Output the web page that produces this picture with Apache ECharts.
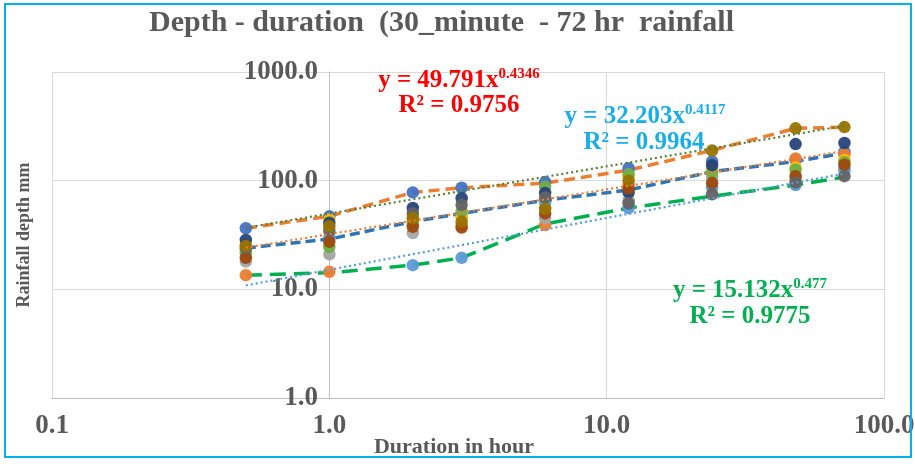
<!DOCTYPE html>
<html>
<head>
<meta charset="utf-8">
<script src="https://cdn.jsdelivr.net/npm/echarts@6.0.0/dist/echarts.min.js"></script>
<style>html,body{margin:0;padding:0;background:#fff}#c{width:915px;height:464px}</style>
</head>
<body>
<div id="c"></div>
<script>
// ---------- data ----------
const durations = [0.5, 1, 2, 3, 6, 12, 24, 48, 72];
const xTicks = [0.1, 1, 10, 100];
const yTicks = [1, 10, 100, 1000];

const station1 = [36.5, 47, 78, 86, 97, 130, 150, 155, 184];
const station2 = [13.5, 14.5, 40, 39, 39, 92, 125, 160, 175];
const station3 = [18, 21, 33, 47, 45, 66, 106, 101, 123];
const station4 = [26, 44, 47, 46, 56, 108, 122, 132, 155];
const station5 = [23, 30, 16.7, 19.5, 63, 56, 87, 91, 128];
const station6 = [21.5, 24.5, 42, 52, 88, 115, 118, 126, 148];
const station7 = [28.5, 41, 56, 69, 77, 78, 139, 217, 222];
const station8 = [19.5, 27.4, 37.6, 37, 50, 85, 95, 110, 140];
const station9 = [24, 34.5, 50, 60, 70, 62, 75, 96, 110];
const station10 = [25, 38, 45, 42, 55, 100, 189, 303, 311];

const maxDepth = [36.5, 47, 78, 86, 95, 125, 190, 303, 311];
const meanDepth = [24, 29, 42, 50, 66, 82, 121, 150, 180];
const minDepth = [13.5, 14.2, 16.7, 19.5, 40, 56, 72, 91, 108];

// trendline end points (power fits shown on chart)
const trendX = [0.5, 72];
const trendMax = [36.85, 319.4];   // y = 49.791x^0.4346
const trendMean = [24.21, 187.3];  // y = 32.203x^0.4117
const trendMin = [10.87, 116.4];   // y = 15.132x^0.477

const stations = [station1, station2, station3, station4, station5, station6, station7, station8, station9, station10];
const stationNames = ['Series1','Series2','Series3','Series4','Series5','Series6','Series7','Series8','Series9','Series10'];

// ---------- styles ----------
const stationColors = ['#4472C4','#ED7D31','#A5A5A5','#FFC000','#5B9BD5','#70AD47','#264478','#9E480E','#636363','#997300'];
const FONT = "'Liberation Serif', 'Times New Roman', serif";
const TXT = '#595959';

const pairs = (xs, ys) => xs.map((x, i) => [x, ys[i]]);

const series = [];
series.push({ name: 'Max', type: 'line', data: pairs(durations, maxDepth), showSymbol: false, symbol: 'none',
  lineStyle: { color: '#ED7D31', width: 3.5, type: [11, 6] }, z: 2 });
series.push({ name: 'Mean', type: 'line', data: pairs(durations, meanDepth), showSymbol: false, symbol: 'none',
  lineStyle: { color: '#2E75B6', width: 3.5, type: [10, 5] }, z: 2 });
series.push({ name: 'Min', type: 'line', data: pairs(durations, minDepth), showSymbol: false, symbol: 'none',
  lineStyle: { color: '#00B050', width: 3.5, type: [16, 8] }, z: 2 });
stations.forEach((s, i) => {
  series.push({ name: stationNames[i], type: 'scatter', data: pairs(durations, s), symbol: 'circle', symbolSize: 12.5,
    itemStyle: { color: stationColors[i], opacity: 0.95 }, z: 3 });
});
series.push({ name: 'Trend max', type: 'line', data: pairs(trendX, trendMax), showSymbol: false, symbol: 'none',
  lineStyle: { color: '#548235', width: 2.2, type: [2, 3] }, z: 4 });
series.push({ name: 'Trend mean', type: 'line', data: pairs(trendX, trendMean), showSymbol: false, symbol: 'none',
  lineStyle: { color: '#ED7D31', width: 2.2, type: [2, 3] }, z: 4 });
series.push({ name: 'Trend min', type: 'line', data: pairs(trendX, trendMin), showSymbol: false, symbol: 'none',
  lineStyle: { color: '#5B9BD5', width: 2.2, type: [2, 3] }, z: 4 });

function eqText(x, y, color, main, sup) {
  return { type: 'text', x: x, y: y, z: 10,
    style: { text: '{m|' + main + '}{s|' + sup + '}', align: 'center', verticalAlign: 'middle',
      rich: { m: { fontFamily: FONT, fontWeight: 'bold', fontSize: 25, lineHeight: 28, fill: color, color: color },
              s: { fontFamily: FONT, fontWeight: 'bold', fontSize: 15, lineHeight: 15, verticalAlign: 'top', fill: color, color: color } } } };
}
function rText(x, y, color, t) {
  return { type: 'text', x: x, y: y, z: 10,
    style: { text: t, align: 'center', verticalAlign: 'middle', fontFamily: FONT, fontWeight: 'bold', fontSize: 25, fill: color } };
}

const chart = echarts.init(document.getElementById('c'), null, { renderer: 'canvas' });
chart.setOption({
  animation: false,
  backgroundColor: '#ffffff',
  title: { text: 'Depth - duration  (30_minute  - 72 hr  rainfall', left: 149, top: 8, padding: 0,
    textStyle: { fontFamily: FONT, fontWeight: 'bold', fontSize: 30, color: TXT } },
  grid: { left: 52, right: 31, top: 72, bottom: 66, containLabel: false, outerBoundsMode: 'none' },
  xAxis: {
    type: 'log', logBase: 10, min: xTicks[0], max: xTicks[xTicks.length - 1],
    axisLine: { show: true, lineStyle: { color: '#BFBFBF', width: 1 } },
    axisTick: { show: false },
    splitLine: { show: true, lineStyle: { color: '#D9D9D9', width: 1 } },
    axisLabel: { formatter: v => Number(v).toFixed(1), color: TXT, fontFamily: FONT, fontWeight: 'bold', fontSize: 27, margin: 15,
      showMinLabel: true, showMaxLabel: true, hideOverlap: false },
    name: 'Duration in hour', nameLocation: 'middle', nameGap: 38, nameMoveOverlap: false,
    nameTextStyle: { fontFamily: FONT, fontWeight: 'bold', fontSize: 22, color: TXT, padding: [0, 28, 0, 0] }
  },
  yAxis: {
    type: 'log', logBase: 10, min: yTicks[0], max: yTicks[yTicks.length - 1],
    position: 'left', offset: -277,
    axisLine: { show: true, lineStyle: { color: '#BFBFBF', width: 1 } },
    axisTick: { show: false },
    splitLine: { show: true, lineStyle: { color: '#D9D9D9', width: 1 } },
    axisLabel: { formatter: v => Number(v).toFixed(1), color: TXT, fontFamily: FONT, fontWeight: 'bold', fontSize: 27, margin: 11,
      showMinLabel: true, showMaxLabel: true, hideOverlap: false },
    name: 'Rainfall depth mm', nameLocation: 'middle', nameGap: 296, nameMoveOverlap: false,
    nameTextStyle: { fontFamily: FONT, fontWeight: 'bold', fontSize: 18, color: TXT }
  },
  graphic: [
    { type: 'rect', shape: { x: 5, y: 4, width: 906, height: 453 }, style: { fill: 'none', stroke: '#00B0F0', lineWidth: 2 }, z: 100, silent: true },
    eqText(459, 81, '#FF0000', 'y = 49.791x', '0.4346'),
    rText(459, 106, '#FF0000', 'R² = 0.9756'),
    eqText(645, 117, '#1AADE8', 'y = 32.203x', '0.4117'),
    rText(644, 143, '#1AADE8', 'R² = 0.9964'),
    eqText(750, 291, '#00B050', 'y = 15.132x', '0.477'),
    rText(750, 317, '#00B050', 'R² = 0.9775')
  ],
  series: series
});
</script>
</body>
</html>
